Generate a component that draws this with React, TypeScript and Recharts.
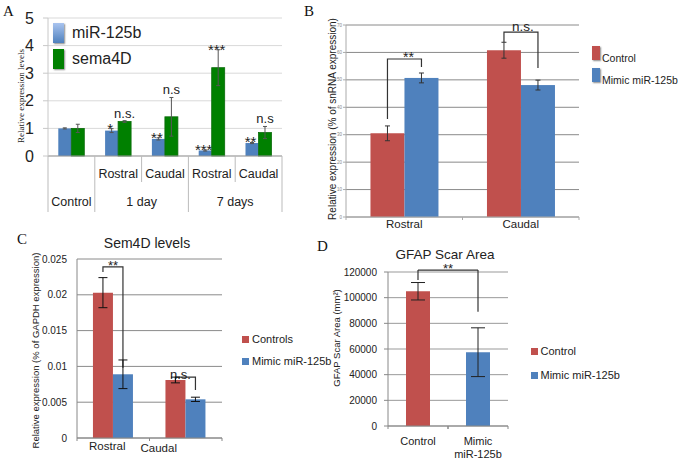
import React from 'react';
import {
  BarChart,
  Bar,
  XAxis,
  YAxis,
  CartesianGrid,
  ErrorBar,
  Legend,
  Cell,
  ReferenceLine,
} from 'recharts';

const SANS = '"Liberation Sans", Arial, sans-serif';
const SERIF = '"Liberation Serif", "Times New Roman", serif';
const RED = '#c0504d';
const BLUE = '#4f81bd';
const GREEN = '#008000';
const INK = '#222';

// ---------------- Panel A data ----------------
const aKeys = ['ctrl', 'd1r', 'd1c', 'd7r', 'd7c'];
const aSubLabels = ['', 'Rostral', 'Caudal', 'Rostral', 'Caudal'];
const aGroupLabels = ['Control', '1 day', '7 days'];
const aGroupStarts = [0, 1, 3];
const aGroupSizes = [1, 2, 2];
const aSeriesNames = ['miR-125b', 'sema4D'];
const aMiR = [1.0, 0.92, 0.62, 0.2, 0.47];
const aMiRErr = [0.02, 0.07, 0.04, 0.02, 0.02];
const aSema = [1.0, 1.25, 1.42, 3.2, 0.85];
const aSemaErr = [0.15, 0.03, 0.7, 0.65, 0.22];
const aMiRSig = ['', '*', '**', '***', '**'];
const aSemaSig = ['', 'n.s.', 'n.s', '***', 'n.s'];
const aTicks = [0, 1, 2, 3, 4, 5];

// ---------------- Panel B data ----------------
const bCategories = ['Rostral', 'Caudal'];
const bSeries = ['Control', 'Mimic miR-125b'];
const bControl = [30.5, 60.8];
const bControlErr = [2.7, 2.9];
const bMimic = [50.7, 48.1];
const bMimicErr = [1.8, 1.8];
const bBracketTop = [57.6, 67.4];
const bBracketLeftEnd = [35.7, 63.8];
const bBracketRightEnd = [54.7, 54.3];
const bSig = ['**', 'n.s.'];
const bTicks = [0, 10, 20, 30, 40, 50, 60, 70];

// ---------------- Panel C data ----------------
const cCategories = ['Rostral', 'Caudal'];
const cSeries = ['Controls', 'Mimic miR-125b'];
const cControl = [0.0203, 0.0081];
const cControlErr = [0.0021, 0.0004];
const cMimic = [0.0089, 0.0054];
const cMimicErr = [0.002, 0.0003];
const cBracketTop = [0.0239, 0.0085];
const cBracketLeftEnd = [0.0232, 0.0078];
const cBracketRightEnd = [0.0098, 0.0067];
const cSig = ['**', 'n.s.'];
const cTicks = [0, 0.005, 0.01, 0.015, 0.02, 0.025];

// ---------------- Panel D data ----------------
const dCategories = ['Control', 'Mimic miR-125b'];
const dTickLines = [['Control'], ['Mimic', 'miR-125b']];
const dArea = [105000, 57500];
const dErr = [6800, 19000];
const dBracketTop = 121500;
const dBracketLeftEnd = 113800;
const dBracketRightEnd = 89000;
const dSig = '**';
const dTicks = [0, 20000, 40000, 60000, 80000, 100000, 120000];

// ---------------- tables ----------------
const aData = aKeys.map((k, i) => ({
  key: k,
  miR: aMiR[i],
  miRErr: aMiRErr[i],
  miRSig: aMiRSig[i],
  sema: aSema[i],
  semaErr: aSemaErr[i],
  semaSig: aSemaSig[i],
}));
const bData = bCategories.map((c, i) => ({
  cat: c,
  control: bControl[i],
  controlErr: bControlErr[i],
  mimic: bMimic[i],
  mimicErr: bMimicErr[i],
  bTop: bBracketTop[i],
  bLeft: bBracketLeftEnd[i],
  bRight: bBracketRightEnd[i],
  sig: bSig[i],
}));
const cData = cCategories.map((c, i) => ({
  cat: c,
  control: cControl[i],
  controlErr: cControlErr[i],
  mimic: cMimic[i],
  mimicErr: cMimicErr[i],
  bTop: cBracketTop[i],
  bLeft: cBracketLeftEnd[i],
  bRight: cBracketRightEnd[i],
  sig: cSig[i],
}));
const dData = dCategories.map((c, i) => ({ cat: c, area: dArea[i], err: dErr[i] }));
const dColors = [RED, BLUE];

// ---------------- helpers ----------------
const bandOf = (props: any, fallback: number) =>
  props && typeof props.width === 'number' && props.visibleTicksCount
    ? props.width / props.visibleTicksCount
    : fallback;

const yLabel =
  (text: string, dx: number, dy: number, size: number, family: string) => (props: any) => {
    const vb = props.viewBox || {};
    const cx = (vb.x ?? 0) + (vb.width ?? 0) + dx;
    const cy = (vb.y ?? 0) + (vb.height ?? 0) / 2 + dy;
    return (
      <text
        x={cx}
        y={cy}
        transform={`rotate(-90 ${cx} ${cy})`}
        textAnchor="middle"
        dominantBaseline="central"
        fontSize={size}
        fontFamily={family}
        fill={INK}
      >
        {text}
      </text>
    );
  };

const sigShape =
  (valKey: string, errKey: string, sigKey: string, stroke?: string) => (props: any) => {
    const { x, y, width, height, fill, payload } = props;
    const v = payload[valKey];
    const e = payload[errKey];
    const s = payload[sigKey];
    const base = y + height;
    const k = v ? height / v : 0;
    const top = base - (v + e) * k;
    const isStar = s && s.indexOf('*') >= 0;
    return (
      <g>
        <rect x={x} y={y} width={width} height={height} fill={fill} stroke={stroke} strokeWidth={stroke ? 0.8 : 0} />
        {s ? (
          <text
            x={x + width / 2 - (isStar ? 1.5 : 0)}
            y={isStar ? top + 5 : top - 3}
            textAnchor="middle"
            fontSize={isStar ? 15 : 13}
            fontFamily={SANS}
            fill={INK}
          >
            {s}
          </text>
        ) : null}
      </g>
    );
  };

const bracketShape =
  (valKey: string, cfg: { star: number; starDy: number; text: number; textDy: number; starDx: number; textDx: number; sw: number }) =>
  (props: any) => {
    const { x, y, width, height, fill, payload } = props;
    const v = payload[valKey];
    const base = y + height;
    const k = v ? height / v : 0;
    const py = (u: number) => base - u * k;
    const lx = x - width / 2;
    const rx = x + width / 2;
    const ty = py(payload.bTop);
    const isStar = payload.sig.indexOf('*') >= 0;
    return (
      <g>
        <rect x={x} y={y} width={width} height={height} fill={fill} />
        <path
          d={`M${lx},${py(payload.bLeft)}V${ty}H${rx}V${py(payload.bRight)}`}
          fill="none"
          stroke="#333"
          strokeWidth={cfg.sw}
        />
        <text
          x={(lx + rx) / 2 + (isStar ? cfg.starDx : cfg.textDx)}
          y={ty + (isStar ? cfg.starDy : cfg.textDy)}
          textAnchor="middle"
          fontSize={isStar ? cfg.star : cfg.text}
          fontFamily={SANS}
          fill={INK}
        >
          {payload.sig}
        </text>
      </g>
    );
  };

const ATick = (props: any) => {
  const { x, y } = props;
  const i = props.index ?? props.payload?.index ?? 0;
  const n = props.visibleTicksCount || aKeys.length;
  const band = bandOf(props, 46.8);
  const left = x - band / 2;
  const right = x + band / 2;
  const g = aGroupStarts.indexOf(i);
  const els: any[] = [];
  els.push(
    <line key="l" x1={left} x2={left} y1={y} y2={y + (g >= 0 ? 56 : 26)} stroke="#bbb" strokeWidth={1} />
  );
  if (i === n - 1) {
    els.push(<line key="r" x1={right} x2={right} y1={y} y2={y + 56} stroke="#bbb" strokeWidth={1} />);
  }
  if (aSubLabels[i]) {
    els.push(
      <text key="s" x={x} y={y + 22} textAnchor="middle" fontSize={12.5} fontFamily={SANS} fill={INK}>
        {aSubLabels[i]}
      </text>
    );
  }
  if (g >= 0) {
    els.push(
      <text key="g" x={left + (band * aGroupSizes[g]) / 2} y={y + 50} textAnchor="middle" fontSize={12.5} fontFamily={SANS} fill={INK}>
        {aGroupLabels[g]}
      </text>
    );
  }
  return <g>{els}</g>;
};

const EdgeTick = (props: any) => {
  const { x, y, payload, lines, dx = 0, dy, lineH = 13, fontSize, mark, fallback, markColor } = props;
  const band = bandOf(props, fallback);
  const left = x - band / 2;
  const right = x + band / 2;
  const ls: string[] = lines || [String(payload.value)];
  return (
    <g>
      {mark ? (
        <>
          <line x1={left} x2={left} y1={y} y2={y + mark} stroke={markColor} />
          <line x1={right} x2={right} y1={y} y2={y + mark} stroke={markColor} />
        </>
      ) : null}
      {ls.map((t, j) => (
        <text key={j} x={x + dx} y={y + dy + j * lineH} textAnchor="middle" fontSize={fontSize} fontFamily={SANS} fill={INK}>
          {t}
        </text>
      ))}
    </g>
  );
};

const SwatchLegend = ({
  names,
  colors,
  w,
  h,
  pitch,
  textDx,
  textDy,
  fontSize,
  shadow,
  gradient,
}: any) => (
  <div style={{ position: 'relative', width: 130, height: pitch * names.length, fontFamily: SANS }}>
    {names.map((n: string, i: number) => (
      <React.Fragment key={n}>
        <div
          style={{
            position: 'absolute',
            left: 0,
            top: i * pitch,
            width: w,
            height: h,
            background: gradient && gradient[i] ? gradient[i] : colors[i],
            boxShadow: shadow ? '1px 1px 1.5px rgba(0,0,0,0.45)' : undefined,
            boxSizing: 'border-box',
          }}
        />
        <div
          style={{
            position: 'absolute',
            left: textDx,
            top: i * pitch + textDy,
            fontSize,
            lineHeight: `${fontSize}px`,
            color: INK,
            whiteSpace: 'nowrap',
          }}
        >
          {n}
        </div>
      </React.Fragment>
    ))}
  </div>
);

const legendPos = (left: number, top: number) => ({ left, top, width: 'auto', height: 'auto', margin: 0 });

// ---------------- panels ----------------
function PanelA() {
  return (
    <BarChart width={300} height={230} data={aData} margin={{ top: 18, right: 18, bottom: 0, left: 0 }} barCategoryGap="22%" barGap={0}>
      <CartesianGrid vertical={false} stroke="#d9d9d9" />
      <XAxis
        dataKey="key"
        height={74}
        interval={0}
        tickSize={0}
        tickMargin={0}
        tickLine={false}
        axisLine={{ stroke: '#999' }}
        tick={(p: any) => <ATick {...p} />}
      />
      <YAxis
        width={48}
        domain={[0, 5]}
        ticks={aTicks}
        tickSize={5}
        tickMargin={9}
        tickLine={{ stroke: '#c8c8c8' }}
        axisLine={{ stroke: '#c8c8c8' }}
        tick={{ fontSize: 16, fill: INK, fontFamily: SANS }}
        label={{ content: yLabel('Relative expression levels', -27, 9, 9, SERIF) }}
      />
      <Legend
        layout="vertical"
        align="center"
        verticalAlign="middle"
        wrapperStyle={legendPos(53, 23)}
        content={() => (
          <SwatchLegend
            names={aSeriesNames}
            colors={[BLUE, GREEN]}
            gradient={['linear-gradient(#a9c4ef, #4f81bd)', null]}
            w={11}
            h={20}
            pitch={26}
            textDx={19}
            textDy={1.5}
            fontSize={16}
            shadow
          />
        )}
      />
      <Bar dataKey="miR" name={aSeriesNames[0]} fill={BLUE} isAnimationActive={false} shape={sigShape('miR', 'miRErr', 'miRSig')}>
        <ErrorBar dataKey="miRErr" width={2} stroke="#555" strokeWidth={1} />
      </Bar>
      <Bar dataKey="sema" name={aSeriesNames[1]} fill={GREEN} isAnimationActive={false} shape={sigShape('sema', 'semaErr', 'semaSig', '#0b6b0b')}>
        <ErrorBar dataKey="semaErr" width={2} stroke="#555" strokeWidth={1} />
      </Bar>
    </BarChart>
  );
}

function PanelB() {
  return (
    <BarChart width={382} height={235} data={bData} margin={{ top: 25, right: 103, bottom: 0, left: 0 }} barCategoryGap="21%" barGap={0}>
      <CartesianGrid vertical={false} stroke="#8a8a8a" />
      <XAxis
        dataKey="cat"
        height={18}
        interval={0}
        tickSize={0}
        tickMargin={0}
        tickLine={false}
        axisLine={{ stroke: '#aaa' }}
        tick={(p: any) => <EdgeTick {...p} dy={11} fontSize={11.5} mark={3} markColor="#aaa" fallback={116.5} />}
      />
      <YAxis
        width={46}
        domain={[0, 70]}
        ticks={bTicks}
        tickSize={3}
        tickMargin={1}
        axisLine={{ stroke: '#aaa' }}
        tickLine={{ stroke: '#aaa' }}
        tick={{ fontSize: 4.5, fill: '#888', fontFamily: SANS }}
        label={{ content: yLabel('Relative expression (% of snRNA expression)', -14, -2, 10, SANS) }}
      />
      <Legend
        layout="vertical"
        align="center"
        verticalAlign="middle"
        wrapperStyle={legendPos(292, 46)}
        content={() => (
          <SwatchLegend names={bSeries} colors={[RED, BLUE]} w={8} h={14} pitch={22} textDx={10} textDy={7} fontSize={10.5} shadow />
        )}
      />
      <Bar dataKey="control" name={bSeries[0]} fill={RED} isAnimationActive={false}>
        <ErrorBar dataKey="controlErr" width={2.5} stroke="#333" strokeWidth={1} />
      </Bar>
      <Bar
        dataKey="mimic"
        name={bSeries[1]}
        fill={BLUE}
        isAnimationActive={false}
        shape={bracketShape('mimic', { star: 14, starDy: 3, text: 13.5, textDy: -1, starDx: 4, textDx: 2, sw: 1.2 })}
      >
        <ErrorBar dataKey="mimicErr" width={2.5} stroke="#333" strokeWidth={1} />
      </Bar>
    </BarChart>
  );
}

const cLabelDx = [-6, -27];
const cLabelDy = [12, 14];

function PanelC() {
  return (
    <BarChart width={300} height={234} data={cData} margin={{ top: 29, right: 78, bottom: 0, left: 0 }} barCategoryGap="22%" barGap={0}>
      <CartesianGrid vertical={false} stroke="#8a8a8a" />
      <XAxis
        dataKey="cat"
        height={26}
        interval={0}
        tickSize={0}
        tickMargin={0}
        tickLine={false}
        axisLine={{ stroke: '#888' }}
        tick={(p: any) => {
          const i = p.index ?? 0;
          return <EdgeTick {...p} dx={cLabelDx[i]} dy={cLabelDy[i]} fontSize={11.5} mark={3} markColor="#888" fallback={72.5} />;
        }}
      />
      <YAxis
        width={77}
        domain={[0, 0.025]}
        ticks={cTicks}
        tickSize={0}
        tickMargin={10}
        tickLine={false}
        axisLine={{ stroke: '#888' }}
        tick={{ fontSize: 10, fill: INK, fontFamily: SANS }}
        tickFormatter={(v: number) => String(v)}
        label={{ content: yLabel('Relative expression (% of GAPDH expression)', -42, 2, 9.5, SANS) }}
      />
      <Legend
        layout="vertical"
        align="center"
        verticalAlign="middle"
        wrapperStyle={legendPos(242, 106)}
        content={() => (
          <SwatchLegend names={cSeries} colors={[RED, BLUE]} w={7} h={7} pitch={22} textDx={10} textDy={-2} fontSize={11} />
        )}
      />
      <Bar dataKey="control" name={cSeries[0]} fill={RED} isAnimationActive={false}>
        <ErrorBar dataKey="controlErr" width={4.5} stroke="#111" strokeWidth={1} />
      </Bar>
      <Bar
        dataKey="mimic"
        name={cSeries[1]}
        fill={BLUE}
        isAnimationActive={false}
        shape={bracketShape('mimic', { star: 13, starDy: 3, text: 13, textDy: 2, starDx: 0, textDx: -5, sw: 1.2 })}
      >
        <ErrorBar dataKey="mimicErr" width={4.5} stroke="#111" strokeWidth={1} />
      </Bar>
    </BarChart>
  );
}

function PanelD() {
  return (
    <BarChart width={382} height={234} data={dData} margin={{ top: 42, right: 174, bottom: 0, left: 0 }} barCategoryGap="30%">
      <CartesianGrid vertical={false} stroke="#999" />
      <XAxis
        dataKey="cat"
        height={38}
        interval={0}
        tickSize={0}
        tickMargin={0}
        tickLine={false}
        axisLine={{ stroke: '#888' }}
        tick={(p: any) => (
          <EdgeTick
            {...p}
            lines={dTickLines[dCategories.indexOf(p.payload.value)]}
            dy={19}
            lineH={13}
            fontSize={11}
            mark={3}
            markColor="#888"
            fallback={60}
          />
        )}
      />
      <YAxis
        width={88}
        domain={[0, 120000]}
        ticks={dTicks}
        tickSize={4}
        tickMargin={7}
        axisLine={{ stroke: '#888' }}
        tickLine={{ stroke: '#888' }}
        tick={{ fontSize: 10, fill: INK, fontFamily: SANS }}
        label={{ content: yLabel('GFAP Scar Area (mm²)', -52, -11, 9.5, SANS) }}
      />
      <Legend
        layout="vertical"
        align="center"
        verticalAlign="middle"
        wrapperStyle={legendPos(231, 118)}
        content={() => (
          <SwatchLegend names={dCategories} colors={dColors} w={7} h={7} pitch={23.5} textDx={9.5} textDy={-2} fontSize={11} />
        )}
      />
      <Bar dataKey="area" isAnimationActive={false}>
        {dData.map((d, i) => (
          <Cell key={d.cat} fill={dColors[i]} />
        ))}
        <ErrorBar dataKey="err" width={7} stroke="#222" strokeWidth={1} />
      </Bar>
      <ReferenceLine
        ifOverflow="visible"
        stroke="#333"
        strokeWidth={1.2}
        segment={[
          { x: dCategories[0], y: dBracketTop },
          { x: dCategories[0], y: dBracketLeftEnd },
        ]}
      />
      <ReferenceLine
        ifOverflow="visible"
        stroke="#333"
        strokeWidth={1.2}
        segment={[
          { x: dCategories[0], y: dBracketTop },
          { x: dCategories[1], y: dBracketTop },
        ]}
        label={{
          content: (p: any) => {
            const vb = p.viewBox || {};
            return (
              <text x={(vb.x ?? 0) + (vb.width ?? 0) / 2} y={(vb.y ?? 0) + 3} textAnchor="middle" fontSize={13} fontFamily={SANS} fill={INK}>
                {dSig}
              </text>
            );
          },
        }}
      />
      <ReferenceLine
        ifOverflow="visible"
        stroke="#333"
        strokeWidth={1.2}
        segment={[
          { x: dCategories[1], y: dBracketTop },
          { x: dCategories[1], y: dBracketRightEnd },
        ]}
      />
    </BarChart>
  );
}

export default function App() {
  return (
    <div
      style={{
        position: 'absolute',
        left: 0,
        top: 0,
        width: 682,
        height: 464,
        background: '#fff',
        overflow: 'hidden',
        fontFamily: SANS,
      }}
    >
      <div style={{ position: 'absolute', left: 0, top: 0 }}>
        <PanelA />
      </div>
      <div style={{ position: 'absolute', left: 300, top: 0 }}>
        <PanelB />
      </div>
      <div style={{ position: 'absolute', left: 0, top: 230 }}>
        <PanelC />
      </div>
      <div style={{ position: 'absolute', left: 300, top: 230 }}>
        <PanelD />
      </div>
      <svg width={682} height={464} style={{ position: 'absolute', left: 0, top: 0, pointerEvents: 'none' }}>
        <text x={3} y={16} fontSize={15} fontFamily={SERIF} fill="#111">A</text>
        <text x={304} y={16} fontSize={15} fontFamily={SERIF} fill="#111">B</text>
        <text x={17} y={244} fontSize={15} fontFamily={SERIF} fill="#111">C</text>
        <text x={317} y={251} fontSize={15} fontFamily={SERIF} fill="#111">D</text>
        <text x={147} y={248} textAnchor="middle" fontSize={14} fontFamily={SANS} fill={INK}>Sem4D levels</text>
        <text x={445} y={259} textAnchor="middle" fontSize={13.5} fontFamily={SANS} fill={INK}>GFAP Scar Area</text>
      </svg>
    </div>
  );
}
